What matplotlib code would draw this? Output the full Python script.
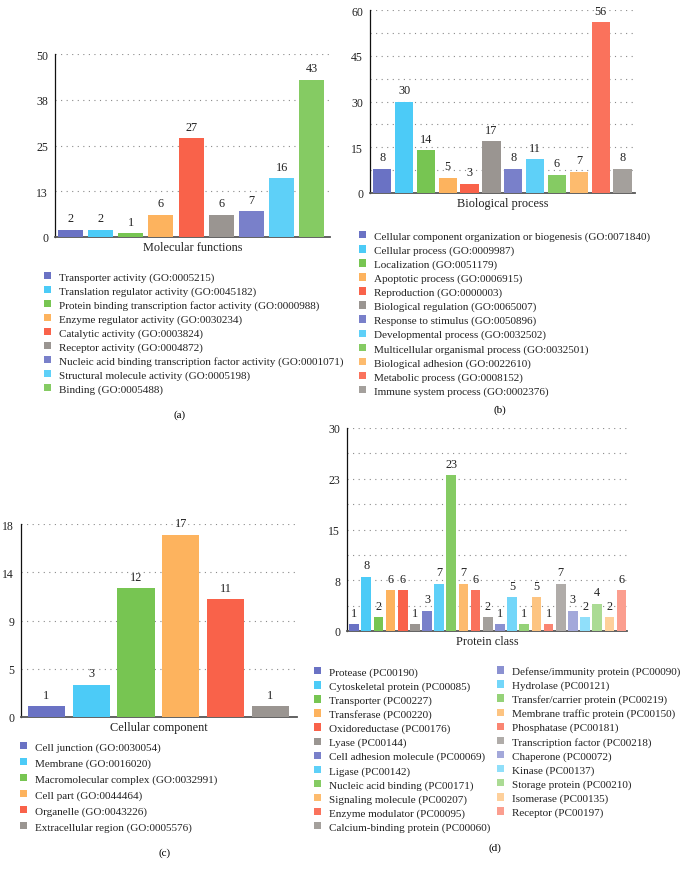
import numpy as np
import matplotlib
matplotlib.use('Agg')
import matplotlib.pyplot as plt
from matplotlib.patches import Patch
from matplotlib.colors import to_rgb

plt.rcParams['font.family'] = ['Liberation Serif', 'DejaVu Serif']

# ---------------- data ----------------
mf_labels = [
    "Transporter activity (GO:0005215)",
    "Translation regulator activity (GO:0045182)",
    "Protein binding transcription factor activity (GO:0000988)",
    "Enzyme regulator activity (GO:0030234)",
    "Catalytic activity (GO:0003824)",
    "Receptor activity (GO:0004872)",
    "Nucleic acid binding transcription factor activity (GO:0001071)",
    "Structural molecule activity (GO:0005198)",
    "Binding (GO:0005488)",
]
mf_values = [2, 2, 1, 6, 27, 6, 7, 16, 43]

bp_labels = [
    "Cellular component organization or biogenesis (GO:0071840)",
    "Cellular process (GO:0009987)",
    "Localization (GO:0051179)",
    "Apoptotic process (GO:0006915)",
    "Reproduction (GO:0000003)",
    "Biological regulation (GO:0065007)",
    "Response to stimulus (GO:0050896)",
    "Developmental process (GO:0032502)",
    "Multicellular organismal process (GO:0032501)",
    "Biological adhesion (GO:0022610)",
    "Metabolic process (GO:0008152)",
    "Immune system process (GO:0002376)",
]
bp_values = [8, 30, 14, 5, 3, 17, 8, 11, 6, 7, 56, 8]

cc_labels = [
    "Cell junction (GO:0030054)",
    "Membrane (GO:0016020)",
    "Macromolecular complex (GO:0032991)",
    "Cell part (GO:0044464)",
    "Organelle (GO:0043226)",
    "Extracellular region (GO:0005576)",
]
cc_values = [1, 3, 12, 17, 11, 1]

pc_labels = [
    "Protease (PC00190)",
    "Cytoskeletal protein (PC00085)",
    "Transporter (PC00227)",
    "Transferase (PC00220)",
    "Oxidoreductase (PC00176)",
    "Lyase (PC00144)",
    "Cell adhesion molecule (PC00069)",
    "Ligase (PC00142)",
    "Nucleic acid binding (PC00171)",
    "Signaling molecule (PC00207)",
    "Enzyme modulator (PC00095)",
    "Calcium-binding protein (PC00060)",
    "Defense/immunity protein (PC00090)",
    "Hydrolase (PC00121)",
    "Transfer/carrier protein (PC00219)",
    "Membrane traffic protein (PC00150)",
    "Phosphatase (PC00181)",
    "Transcription factor (PC00218)",
    "Chaperone (PC00072)",
    "Kinase (PC00137)",
    "Storage protein (PC00210)",
    "Isomerase (PC00135)",
    "Receptor (PC00197)",
]
pc_values = [1, 8, 2, 6, 6, 1, 3, 7, 23, 7, 6, 2, 1, 5, 1, 5, 1, 7, 3, 2, 4, 2, 6]

# ---------------- style ----------------
base_colors = ['#6A72C4', '#4CCBF7', '#77C552', '#FDB35E', '#F9624A', '#9A9591']
tints = [0.0, 0.10, 0.22, 0.38]


def shade(i):
    f = tints[i // 6]
    c = to_rgb(base_colors[i % 6])
    return tuple(x + (1 - x) * f for x in c)


W, H = 687, 870
fig = plt.figure(figsize=(W / 100, H / 100), dpi=100)

FS = 8
TXT = '#222222'


def rect(l, r, t, b):
    return [l / W, 1 - b / H, (r - l) / W, (b - t) / H]


def panel(box, values, ymax, step, gridstep, xlim, width, xlabel):
    ax = fig.add_axes(rect(*box))
    n = len(values)
    colors = [shade(i) for i in range(n)]
    bars = ax.bar(np.arange(n), values, width=width, color=colors, zorder=3)
    ax.bar_label(bars, padding=4, fontsize=8.8, color=TXT)
    ax.set_ylim(0, ymax)
    ax.set_xlim(*xlim)
    major = np.arange(0, ymax + 1e-9, step)
    ax.set_yticks(major)
    ax.set_yticklabels([str(int(np.floor(t + 0.5))) for t in major])
    grid = np.arange(gridstep, ymax + 1e-9, gridstep)
    for g in grid:
        ax.axhline(g, color='#8a8a8a', lw=0.8, linestyle=(0, (1, 4)), zorder=1)
    ax.set_xticks([])
    ax.tick_params(axis='y', length=0, pad=5, labelsize=8.5, colors=TXT)
    for s in ['top', 'right']:
        ax.spines[s].set_visible(False)
    ax.spines['left'].set_color('#111111')
    ax.spines['left'].set_linewidth(0.9)
    ax.spines['bottom'].set_color('#555555')
    ax.spines['bottom'].set_linewidth(1.3)
    ax.set_xlabel(xlabel, fontsize=8.8, labelpad=3, color=TXT)
    return ax


def legend(labels, colors, x, y, spacing):
    handles = [Patch(facecolor=c, edgecolor='none') for c in colors]
    lg = fig.legend(handles, labels, loc='upper left',
                    bbox_to_anchor=(x / W, 1 - y / H), frameon=False,
                    borderpad=0, borderaxespad=0, fontsize=FS,
                    handlelength=0.65, handleheight=0.65, handletextpad=0.7,
                    labelspacing=spacing, labelcolor=TXT)
    return lg


# (a)
panel((55, 330, 55, 238), mf_values, 50, 12.5, 12.5, (-0.51, 8.6), 0.83,
      "Molecular functions")
legend(mf_labels, [shade(i) for i in range(len(mf_labels))], 44, 273, 0.37)
fig.text(180 / W, 1 - 415 / H, "(a)", ha='center', va='center', fontsize=FS)

# (b)
panel((370, 635, 11, 194), bp_values, 60, 15, 7.5, (-0.56, 11.57), 0.84,
      "Biological process")
legend(bp_labels, [shade(i) for i in range(len(bp_labels))], 359, 232, 0.38)
fig.text(500 / W, 1 - 410 / H, "(b)", ha='center', va='center', fontsize=FS)

# (c)
panel((21, 297, 525, 718), cc_values, 18, 4.5, 4.5, (-0.57, 5.6), 0.83,
      "Cellular component")
legend(cc_labels, [shade(i) for i in range(len(cc_labels))], 20, 743, 0.55)
fig.text(165 / W, 1 - 853 / H, "(c)", ha='center', va='center', fontsize=FS)

# (d)
panel((347, 627, 429, 632), pc_values, 30, 7.5, 3.75, (-0.58, 22.45), 0.8,
      "Protein class")
pc_cols = [shade(i) for i in range(len(pc_labels))]
legend(pc_labels[:12], pc_cols[:12], 314, 668, 0.38)
legend(pc_labels[12:], pc_cols[12:], 497, 667, 0.38)
fig.text(495 / W, 1 - 848 / H, "(d)", ha='center', va='center', fontsize=FS)

fig.savefig('out.png', dpi=100, facecolor='white')
